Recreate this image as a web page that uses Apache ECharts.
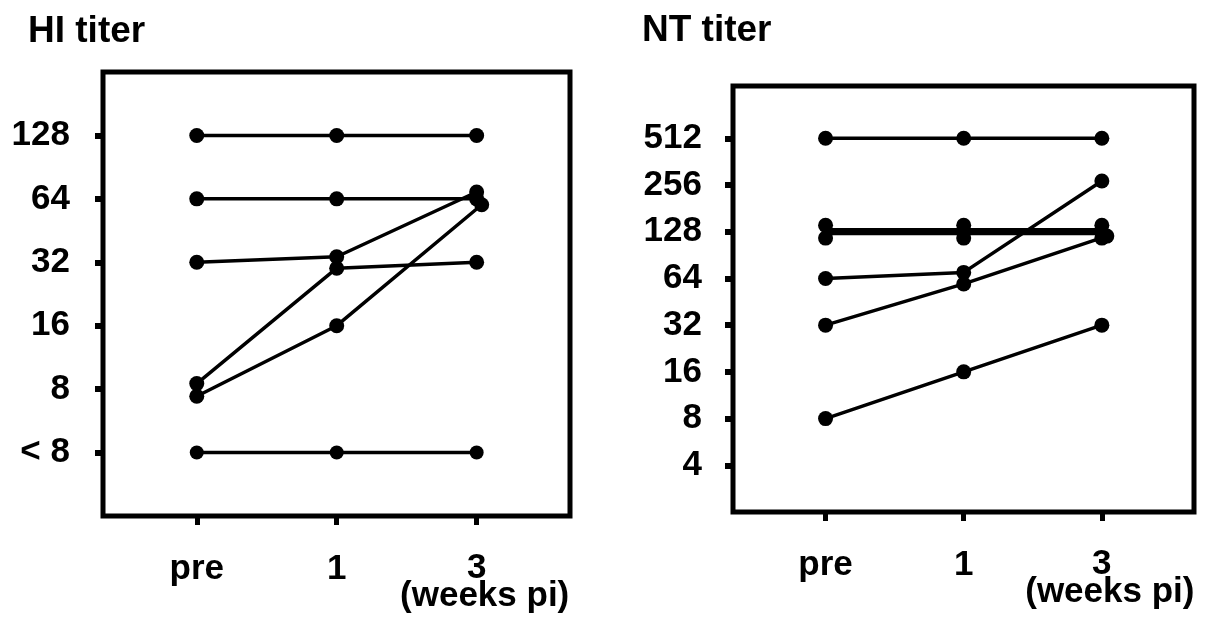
<!DOCTYPE html>
<html>
<head>
<meta charset="utf-8">
<script src="https://cdn.jsdelivr.net/npm/echarts@6/dist/echarts.min.js"></script>
<style>
    html, body { margin: 0; background: #fff; }
    #main { width: 1207px; height: 633px; }
</style>
</head>
<body>
<div id="main"></div>
<script>
(function () {
    var myChart = echarts.init(document.getElementById('main'));
    var font = '"Liberation Sans", Arial, sans-serif';

    // x categories
    var weeks = ['pre', '1', '3'];
    // y tick values (titers), 4 is drawn as "< 8" on the HI panel
    var hiTicks = [4, 8, 16, 32, 64, 128];
    var ntTicks = [4, 8, 16, 32, 64, 128, 256, 512];

    // HI titer, one array per animal: pre, 1, 3 weeks pi
    var hiA = [128, 128, 128];
    var hiB = [64, 64, 64];
    var hiC = [32, 34, 69];
    var hiD = [8.5, 30, 32];
    var hiE = [7.4, 16, 60];
    var hiF = [4, 4, 4];
    var hiShiftE = [0, 0, 0.036];

    // NT titer
    var ntG = [512, 512, 512];
    var ntK = [130.7, 130.7, 130.7];
    var ntL = [125.4, 125.4, 125.4];
    var ntJ = [64, 70, 272];
    var ntI = [32, 59, 120];
    var ntH = [8, 16, 32];
    var ntShiftI = [0, 0, 0.036];

    function toPoints(vals, shift) {
        return vals.map(function (v, i) {
            return [i + (shift ? shift[i] : 0), Math.log2(v)];
        });
    }

    function lineSeries(vals, idx, shift, extra) {
        var s = {
            type: 'line',
            xAxisIndex: idx,
            yAxisIndex: idx,
            data: toPoints(vals, shift),
            symbol: 'circle',
            symbolSize: 15,
            showAllSymbol: true,
            itemStyle: { color: '#000' },
            lineStyle: { color: '#000', width: 3.5 },
            animation: false,
            silent: true
        };
        return Object.assign(s, extra || {});
    }

    function xAxis(idx) {
        return {
            type: 'value',
            gridIndex: idx,
            min: -0.67,
            max: 2.667,
            axisLine: { show: false, onZero: false },
            splitLine: { show: false },
            axisTick: {
                show: true, length: 9, customValues: [0, 1, 2],
                lineStyle: { color: '#000', width: 5 }
            },
            axisLabel: {
                customValues: [0, 1, 2],
                margin: 38,
                color: '#000',
                fontFamily: font,
                fontWeight: 'bold',
                fontSize: 35,
                lineHeight: 30,
                formatter: function (v) {
                    var i = Math.round(v);
                    if (i === 2) return '{n|' + weeks[i] + '}\n{w|(weeks pi)}';
                    return weeks[i];
                },
                rich: {
                    n: { fontFamily: font, fontWeight: 'bold', fontSize: 35, lineHeight: 28, color: '#000' },
                    w: { fontFamily: font, fontWeight: 'bold', fontSize: 35, lineHeight: 28, color: '#000', padding: [0, 0, 0, 16] }
                }
            }
        };
    }

    function yAxis(idx, ticks, max, margin, lt8) {
        var vals = ticks.map(function (t) { return Math.log2(t); });
        return {
            type: 'value',
            gridIndex: idx,
            min: 1,
            max: max,
            axisLine: { show: false, onZero: false },
            splitLine: { show: false },
            axisTick: {
                show: true, length: 8, customValues: vals,
                lineStyle: { color: '#000', width: 6 }
            },
            axisLabel: {
                customValues: vals,
                margin: margin,
                color: '#000',
                fontFamily: font,
                fontWeight: 'bold',
                fontSize: 35,
                formatter: function (v) {
                    var t = Math.round(Math.pow(2, v));
                    if (lt8 && t === 4) return '< 8';
                    return String(t);
                }
            }
        };
    }

    var option = {
        backgroundColor: '#fff',
        title: [
            { text: 'HI titer', left: 28, top: 13, padding: 0,
              textStyle: { fontFamily: font, fontWeight: 'bold', fontSize: 37, color: '#000' } },
            { text: 'NT titer', left: 642, top: 12, padding: 0,
              textStyle: { fontFamily: font, fontWeight: 'bold', fontSize: 37, color: '#000' } }
        ],
        grid: [
            { left: 103, right: 637, top: 72, bottom: 117, show: true, borderColor: '#000', borderWidth: 5, backgroundColor: 'transparent' },
            { left: 733, right: 13, top: 86, bottom: 121, show: true, borderColor: '#000', borderWidth: 5, backgroundColor: 'transparent' }
        ],
        xAxis: [xAxis(0), xAxis(1)],
        yAxis: [yAxis(0, hiTicks, 8, 33, true), yAxis(1, ntTicks, 10.12, 31, false)],
        series: [
            lineSeries(hiA, 0),
            lineSeries(hiB, 0),
            lineSeries(hiC, 0),
            lineSeries(hiD, 0),
            lineSeries(hiE, 0, hiShiftE),
            lineSeries(hiF, 0, null, { symbolSize: 14 }),
            lineSeries(ntG, 1),
            lineSeries(ntK, 1, null, { symbolOffset: [0, -5], lineStyle: { color: '#000', width: 4.5 } }),
            lineSeries(ntL, 1, null, { symbolOffset: [0, 5], lineStyle: { color: '#000', width: 4.5 } }),
            lineSeries(ntJ, 1),
            lineSeries(ntI, 1, ntShiftI),
            lineSeries(ntH, 1)
        ]
    };

    myChart.setOption(option);

    window.addEventListener('resize', function () {
        myChart.resize();
    });
})();
</script>
</body>
</html>
